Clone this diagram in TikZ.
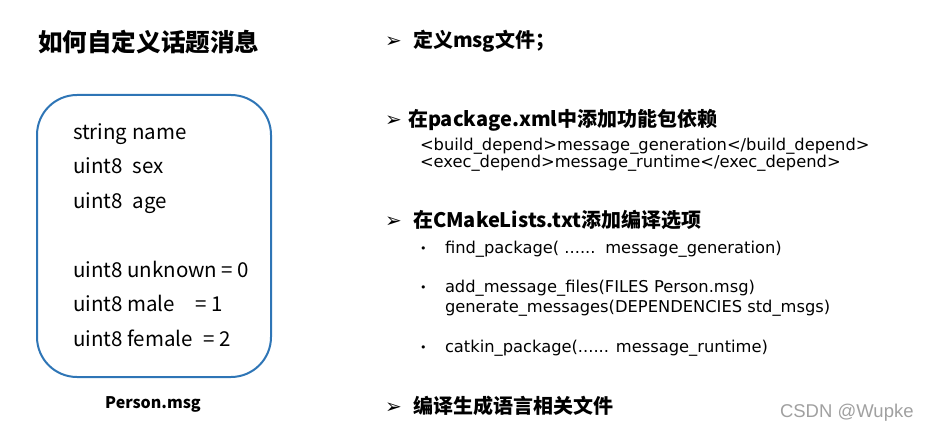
\documentclass[tikz,border=0pt]{standalone}
\usepackage{fontspec}
\newfontfamily\cjk{Noto Sans CJK SC}
\newfontfamily\dv{DejaVu Sans}
\newfontfamily\lib{Liberation Sans}
\definecolor{boxblue}{HTML}{2E75B6}
\definecolor{wm}{HTML}{A0A0A0}
\tikzset{
  txt/.style={anchor=base west, inner sep=0pt, outer sep=0pt},
  boxline/.style={txt, font=\cjk\fontsize{20.5}{24}\selectfont},
  heading/.style={txt, font=\cjk\bfseries\fontsize{20}{24}\selectfont},
  arrowmark/.style={txt, font=\dv\fontsize{20}{22}\selectfont},
  code/.style={txt, font=\dv\fontsize{16.3}{19}\selectfont},
  dotmark/.style={txt, font=\dv\fontsize{11}{12}\selectfont},
}
\begin{document}
\begin{tikzpicture}[x=1pt,y=-1pt]
\useasboundingbox (0,0) rectangle (925,430);
\node[txt, font=\cjk\bfseries\fontsize{24.6}{28}\selectfont] (title) at (38,52) {如何自定义话题消息};
\node[draw=boxblue, line width=2pt, rounded corners=40pt, minimum width=234pt, minimum height=282pt, anchor=north west, inner sep=0pt] (msgbox) at (36,94) {};
\node[boxline] (l1) at (73,140) {string name};
\node[boxline] (l2) at (73,174) {uint8\hspace{0.5em}sex};
\node[boxline] (l3) at (73,208) {uint8\hspace{0.5em}age};
\node[boxline] (l4) at (73,277) {uint8 unknown = 0};
\node[boxline] (l5) at (73,311) {uint8 male\hspace{1.0em}= 1};
\node[boxline] (l6) at (73,346) {uint8 female\hspace{0.5em}= 2};
\node[anchor=base, inner sep=0pt, font=\cjk\bfseries\fontsize{16}{18}\selectfont] (cap) at (153,408) {Person.msg};
% right column
\node[arrowmark] (a1) at (385,48) {➢};
\node[heading] (h1) at (413,48) {定义msg文件；};
\node[arrowmark] (a2) at (385,127) {➢};
\node[heading] (h2) at (408,127) {在package.xml中添加功能包依赖};
\node[code] (c1) at (420,151) {<build\_depend>message\_generation</build\_depend>};
\node[code] (c2) at (420,168) {<exec\_depend>message\_runtime</exec\_depend>};
\node[arrowmark] (a3) at (385,228) {➢};
\node[heading] (h3) at (413,228) {在CMakeLists.txt添加编译选项};
\node[dotmark] (b1) at (420,252) {•};
\node[code] (d1) at (445,253) {find\_package( ......\hspace{0.6em}message\_generation)};
\node[dotmark] (b2) at (420,291) {•};
\node[code] (d2) at (445,292) {add\_message\_files(FILES Person.msg)};
\node[code] (d3) at (445,312) {generate\_messages(DEPENDENCIES std\_msgs)};
\node[dotmark] (b3) at (420,351) {•};
\node[code] (d4) at (445,352) {catkin\_package(...... message\_runtime)};
\node[arrowmark] (a4) at (385,413) {➢};
\node[heading] (h4) at (413,413) {编译生成语言相关文件};
\node[txt, font=\lib\fontsize{18.5}{20}\selectfont, text=wm] (wmk) at (780,417) {CSDN @Wupke};
\end{tikzpicture}
\end{document}
